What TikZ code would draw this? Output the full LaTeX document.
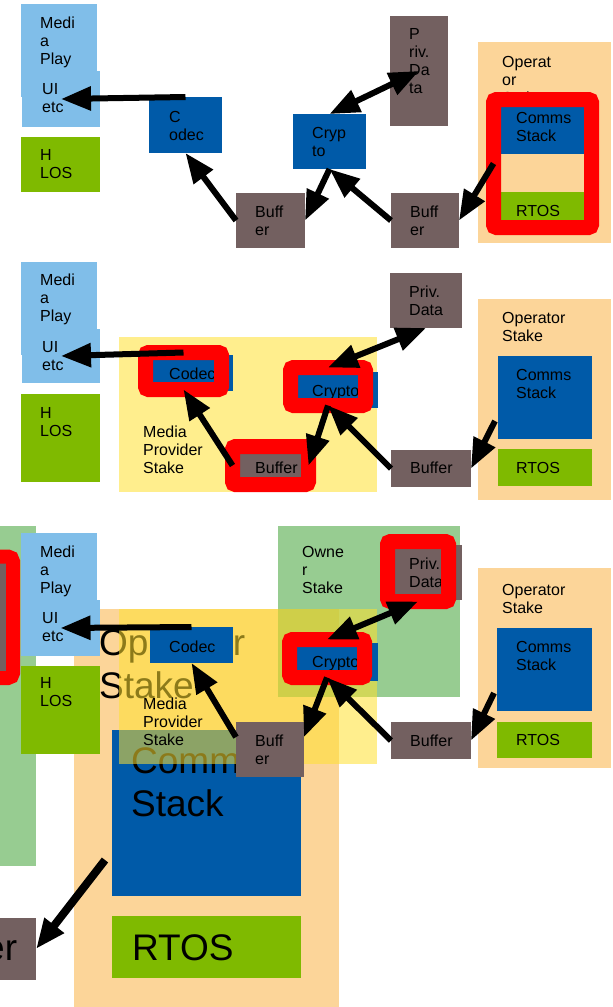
\documentclass[tikz,border=0pt]{standalone}
\usepackage{fontspec}
\setmainfont{Liberation Sans}
\usetikzlibrary{arrows.meta,calc,fit}

\definecolor{playerblue}{RGB}{128,190,233}
\definecolor{chipblue}{RGB}{0,90,168}
\definecolor{osgreen}{RGB}{127,186,0}
\definecolor{databrown}{RGB}{115,96,96}
\definecolor{opstake}{RGB}{252,213,153}
\definecolor{ownstake}{RGB}{82,170,72}
\definecolor{mpstake}{RGB}{255,224,48}

\begin{document}
\begin{tikzpicture}[x=1pt,y=-1pt,
  blk/.style={inner sep=0pt,outer sep=0pt},
  owner/.style={blk,fill=ownstake,fill opacity=0.6},
  media/.style={blk,fill=mpstake,fill opacity=0.55},
  % labels sit on the baseline of their last line
  lbl/.style={anchor=base west,align=left,inner sep=0pt,font=\fontsize{16}{18}\selectfont},
  big/.style={lbl,font=\fontsize{37}{43}\selectfont},
  hot/.style={draw=red,line width=15pt,rounded corners=3pt,inner sep=0pt,outer sep=0pt},
  link/.style={line width=6pt,->,>={Triangle[length=30pt,width=23pt]}}]
\useasboundingbox (0,0) rectangle (613,1007);
\clip (0,0) rectangle (613,1007);

% top row
\node[blk,fill=playerblue,fit={(21,4) (97,97)}] (play1) {};
\node[blk,fill=playerblue,fit={(22,71) (100,127)}] (ui1) {};
\node[blk,fill=osgreen,fit={(21,137) (100,192)}] (hlos1) {};
\node[blk,fill=chipblue,fit={(149,97) (222,153)}] (codec1) {};
\node[blk,fill=databrown,fit={(236,193) (305,248)}] (buf1) {};
\node[blk,fill=chipblue,fit={(293,114) (366,169)}] (crypto1) {};
\node[blk,fill=databrown,fit={(390,16) (448,126)}] (priv1) {};
\node[blk,fill=databrown,fit={(391,193) (459,248)}] (rxbuf1) {};
\node[blk,fill=opstake,fit={(478,42) (611,243)}] (op1) {};
\node[blk,fill=chipblue,fit={(499,103) (586,154)}] (comms1) {};
\node[blk,fill=osgreen,fit={(499,192) (586,222)}] (rtos1) {};
\node[lbl] (play1l) at (40,64) {Medi\\a\\Play};
\node[lbl] (ui1l) at (42,112) {UI\\etc};
\node[lbl] (hlos1l) at (40,178) {H\\LOS};
\node[lbl] (codec1l) at (169,140) {C\\odec};
\node[lbl] (buf1l) at (255,235) {Buff\\er};
\node[lbl] (priv1l) at (409,93) {P\\riv.\\Da\\ta};
\node[lbl] (crypto1l) at (312,156) {Cryp\\to};
\node[lbl] (rxbuf1l) at (410,235) {Buff\\er};
\node[lbl] (op1l) at (502,103) {Operat\\or\\Stake};
\node[lbl] (comms1l) at (516,141) {Comms\\Stack};
\node[lbl] (rtos1l) at (516,216) {RTOS};
\node[hot,fit={(493.5,99.5) (591.5,227.5)}] (hot1) {};

\draw[link] (codec1.north) -- (ui1.center);
\draw[link] (buf1.west) -- (codec1.south);
\draw[link] (crypto1.south) -- (buf1.east);
\draw[link] (rxbuf1.west) -- (crypto1.south);
\draw[link,<->] (crypto1.north) -- (priv1.center);
\draw[link] (hot1.west) -- (rxbuf1.east);

% middle row
\node[blk,fill=playerblue,fit={(21,262) (97,355)}] (play2) {};
\node[blk,fill=playerblue,fit={(22,329) (100,383)}] (ui2) {};
\node[blk,fill=osgreen,fit={(21,394) (100,482)}] (hlos2) {};
\node[media,fit={(119,337) (377,492)}] (mp2) {};
\node[lbl] (mp2l) at (143,473) {Media\\Provider\\Stake};
\node[blk,fill=chipblue,fit={(153,355) (233,391)}] (codec2) {};
\node[blk,fill=databrown,fit={(240,454) (312,486)}] (buf2) {};
\node[blk,fill=chipblue,fit={(298,372) (378,408)}] (crypto2) {};
\node[lbl] (play2l) at (40,321) {Medi\\a\\Play};
\node[lbl] (ui2l) at (42,370) {UI\\etc};
\node[lbl] (hlos2l) at (40,436) {H\\LOS};
\node[lbl] (codec2l) at (169,379) {Codec};
\node[lbl] (buf2l) at (255,473) {Buffer};
\node[lbl] (crypto2l) at (312,396) {Crypto};
\node[hot,fit={(145.5,352.5) (221.5,389.5)}] (hotcodec2) {};
\node[hot,fit={(232.5,446.5) (308.5,484.5)}] (hotbuf2) {};
\node[hot,fit={(290.5,367.5) (365.5,405.5)}] (hotcrypto2) {};
\node[blk,fill=databrown,fit={(390,273) (462,328)}] (priv2) {};
\node[blk,fill=opstake,fit={(478,299) (611,500)}] (op2) {};
\node[blk,fill=chipblue,fit={(498,356) (592,439)}] (comms2) {};
\node[blk,fill=osgreen,fit={(498,449) (592,486)}] (rtos2) {};
\node[blk,fill=databrown,fit={(391,450) (471,487)}] (rxbuf2) {};
\node[lbl] (priv2l) at (409,315) {Priv.\\Data};
\node[lbl] (op2l) at (502,341) {Operator\\Stake};
\node[lbl] (comms2l) at (516,398) {Comms\\Stack};
\node[lbl] (rtos2l) at (516,473) {RTOS};
\node[lbl] (rxbuf2l) at (410,473) {Buffer};

\draw[link] (hotcodec2.north) -- (ui2.center);
\draw[link] (hotbuf2.west) -- (hotcodec2.south);
\draw[link] (hotcrypto2.south) -- (hotbuf2.east);
\draw[link] (rxbuf2.west) -- (hotcrypto2.south);
\draw[link,<->] (hotcrypto2.north) -- (priv2.south);
\draw[link] ($(comms2.south west)+(-3,-18)$) -- (rxbuf2.east);

% bottom row, with the enlarged layer underneath
\node[owner,fit={(0,526) (36,866)}] (ownbig) {};
\node[blk,fill=databrown,fit={(-100,562) (8,672)}] (privbig) {};
\node[hot,line width=14pt,rounded corners=5pt,fit={(-100,556.5) (13,678)}] (hotbig) {};
\node[blk,fill=opstake,fit={(74,609) (339,1010)}] (opbig) {};
\node[blk,fill=playerblue,fit={(21,533) (97,626)}] (play3) {};
\node[blk,fill=playerblue,fit={(21,600) (100,656)}] (ui3) {};
\node[blk,fill=osgreen,fit={(21,666) (100,754)}] (hlos3) {};
\node[lbl] (play3l) at (40,593) {Medi\\a\\Play};
\node[lbl] (ui3l) at (42,641) {UI\\etc};
\node[lbl] (hlos3l) at (40,706) {H\\LOS};
\node[big] (opbigl) at (99,698) {Operator\\Stake};
\node[blk,fill=chipblue,fit={(112,730) (301,896)}] (commsbig) {};
\node[blk,fill=osgreen,fit={(112,916) (301,978)}] (rtosbig) {};
\node[blk,fill=databrown,fit={(-60,918) (36,980)}] (bufbig) {};
\node[big] (commsbigl) at (131,816) {Comms\\Stack};
\node[big] (rtosbigl) at (132,960) {RTOS};
\node[big] (bufbigl) at (-16,960) {er};
\draw[link,line width=8pt] ($(commsbig.south west)+(-7,-36)$) -- (bufbig.east);

\node[owner,fit={(278,526) (460,697)}] (own3) {};
\node[media,fit={(119,609) (377,764)}] (mp3) {};
\node[lbl] (own3l) at (302,593) {Owne\\r\\Stake};
\node[lbl] (mp3l) at (143,745) {Media\\Provider\\Stake};
\node[blk,fill=chipblue,fit={(150,627) (233,663)}] (codec3) {};
\node[blk,fill=databrown,fit={(236,722) (304,777)}] (buf3) {};
\node[blk,fill=chipblue,fit={(297,643) (378,681)}] (crypto3) {};
\node[blk,fill=databrown,fit={(392,545) (462,600)}] (priv3) {};
\node[lbl] (codec3l) at (169,652) {Codec};
\node[lbl] (buf3l) at (255,764) {Buff\\er};
\node[lbl] (crypto3l) at (312,667) {Crypto};
\node[lbl] (priv3l) at (409,587) {Priv.\\Data};
\node[hot,fit={(289.5,639.5) (364.5,677.5)}] (hotcrypto3) {};
\node[hot,fit={(387.5,541.5) (448.5,601.5)}] (hotpriv3) {};
\node[blk,fill=opstake,fit={(478,568) (611,768)}] (op3) {};
\node[blk,fill=chipblue,fit={(497,628) (592,711)}] (comms3) {};
\node[blk,fill=osgreen,fit={(497,722) (592,758)}] (rtos3) {};
\node[blk,fill=databrown,fit={(391,722) (471,759)}] (rxbuf3) {};
\node[lbl] (op3l) at (502,613) {Operator\\Stake};
\node[lbl] (comms3l) at (516,670) {Comms\\Stack};
\node[lbl] (rtos3l) at (516,745) {RTOS};
\node[lbl] (rxbuf3l) at (410,746) {Buffer};

\draw[link] (codec3.north) -- (ui3.center);
\draw[link] (buf3.160) -- (codec3.south);
\draw[link] (hotcrypto3.south) -- (buf3.20);
\draw[link] (rxbuf3.west) -- (hotcrypto3.south);
\draw[link,<->] (hotcrypto3.north) -- (hotpriv3.south);
\draw[link] ($(comms3.south west)+(-3,-18)$) -- (rxbuf3.east);
\end{tikzpicture}
\end{document}
